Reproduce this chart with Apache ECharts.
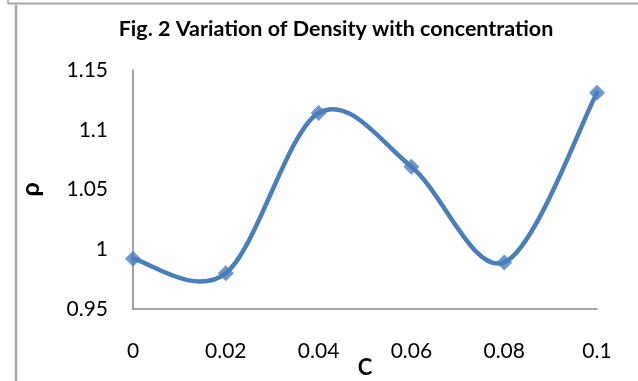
<!DOCTYPE html>
<html>
<head>
<meta charset="utf-8">
<script src="https://cdn.jsdelivr.net/npm/echarts@6/dist/echarts.min.js"></script>
<style>html,body{margin:0;padding:0;background:#fff}#c{width:638px;height:381px}</style>
</head>
<body>
<div id="c"></div>
<script>
const titleText = 'Fig. 2 Variation of Density with concentration';
const xName = 'C';
const yName = 'ρ';
const concentration = [0, 0.02, 0.04, 0.06, 0.08, 0.1];
const density = [0.992, 0.980, 1.114, 1.069, 0.989, 1.131];
const yTicks = [0.95, 1, 1.05, 1.1, 1.15];
const xTicks = [0, 0.02, 0.04, 0.06, 0.08, 0.1];

const FONT = 'Lato, "Open Sans", sans-serif';
const LINE_COLOR = '#4a7ebb';

// Excel-like smoothed line (Catmull-Rom / Bezier), computed in pixel space via the axes
function renderSmooth(params, api) {
  if (params.dataIndex !== 0) return null;
  const pts = concentration.map((c, i) => api.coord([c, density[i]]));
  const n = pts.length;
  let d = 'M' + pts[0][0] + ' ' + pts[0][1];
  for (let i = 0; i < n - 1; i++) {
    const p0 = pts[Math.max(i - 1, 0)], p1 = pts[i], p2 = pts[i + 1], p3 = pts[Math.min(i + 2, n - 1)];
    const c1 = [p1[0] + (p2[0] - p0[0]) / 6, p1[1] + (p2[1] - p0[1]) / 6];
    const c2 = [p2[0] - (p3[0] - p1[0]) / 6, p2[1] - (p3[1] - p1[1]) / 6];
    d += ' C' + c1[0] + ' ' + c1[1] + ' ' + c2[0] + ' ' + c2[1] + ' ' + p2[0] + ' ' + p2[1];
  }
  return {
    type: 'path',
    shape: {pathData: d},
    style: {fill: null, stroke: LINE_COLOR, lineWidth: 4.5, lineCap: 'round', lineJoin: 'round'}
  };
}

const chart = echarts.init(document.getElementById('c'), null, {renderer: 'canvas'});
chart.setOption({
  animation: false,
  backgroundColor: '#ffffff',
  title: {
    text: titleText,
    left: 331, top: 13, textAlign: 'center',
    textStyle: {fontFamily: FONT, fontWeight: 'bold', fontSize: 21.5, color: '#000'}
  },
  graphic: [
    {type: 'line', shape: {x1: 8, y1: 3.5, x2: 638, y2: 3.5}, style: {stroke: '#a6a6a6', lineWidth: 2}},
    {type: 'line', shape: {x1: 8, y1: 0, x2: 8, y2: 4}, style: {stroke: '#a6a6a6', lineWidth: 1.5}},
    {type: 'line', shape: {x1: 16, y1: 5, x2: 16, y2: 381}, style: {stroke: '#a6a6a6', lineWidth: 2.5}}
  ],
  grid: {left: 133, right: 41, top: 70, bottom: 72, containLabel: false, outerBoundsMode: 'none'},
  xAxis: {
    type: 'value', min: 0, max: 0.1, interval: 0.02,
    name: xName, nameLocation: 'middle', nameGap: 48, nameMoveOverlap: false,
    nameTextStyle: {fontFamily: FONT, fontWeight: 'bold', fontSize: 22, color: '#000'},
    axisLine: {show: true, lineStyle: {color: '#868686', width: 1.5}},
    axisTick: {show: false},
    splitLine: {show: false},
    axisLabel: {
      margin: 32, fontFamily: FONT, fontSize: 21, color: '#000',
      formatter: v => { const t = xTicks.find(k => Math.abs(k - v) < 1e-9); return t === undefined ? '' : String(t); }
    }
  },
  yAxis: {
    type: 'value', min: 0.95, max: 1.15, interval: 0.05,
    name: yName, nameLocation: 'middle', nameGap: 90, nameRotate: 90, nameMoveOverlap: false,
    nameTextStyle: {fontFamily: FONT, fontWeight: 'bold', fontSize: 25, color: '#000'},
    axisLine: {show: true, lineStyle: {color: '#868686', width: 1.5}},
    axisTick: {show: false},
    splitLine: {show: false},
    axisLabel: {
      margin: 25, fontFamily: FONT, fontSize: 21, color: '#000',
      formatter: v => { const t = yTicks.find(k => Math.abs(k - v) < 1e-9); return t === undefined ? '' : String(t); }
    }
  },
  series: [
    {
      type: 'custom',
      renderItem: renderSmooth,
      data: concentration.map((c, i) => [c, density[i]]),
      z: 2,
      silent: true
    },
    {
      type: 'scatter',
      data: concentration.map((c, i) => [c, density[i]]),
      symbol: 'diamond', symbolSize: 16,
      itemStyle: {color: LINE_COLOR},
      z: 3
    }
  ]
});
</script>
</body>
</html>
